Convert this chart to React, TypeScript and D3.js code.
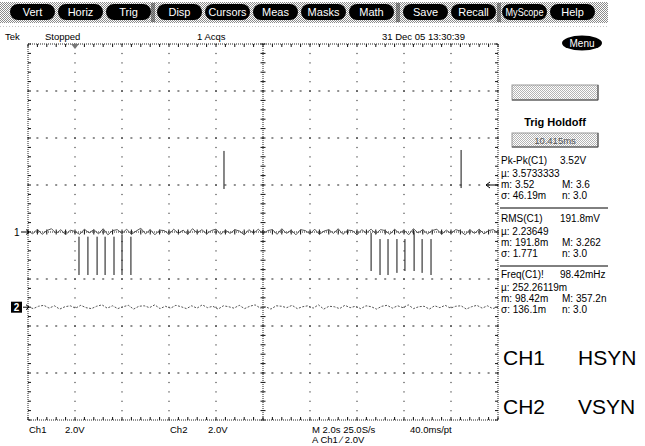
import React from "react";
import * as d3 from "d3";

// ---------- data ----------
const buttonGroups = [
  ["Vert", "Horiz", "Trig"],
  ["Disp", "Cursors", "Meas", "Masks", "Math"],
  ["Save", "Recall"],
  ["MyScope", "Help"],
];
const statusLeft = ["Tek", "Stopped"];
const acqLabel = "1 Acqs";
const dateLabel = "31 Dec 05 13:30:39";

// time axis: 2.0 s/div, 10 divisions, trigger one division from left
const timeDomain = [-2, 18];
const divDomain = [-4, 4];
const voltsPerDiv = 2.0;
const ch2OffsetDiv = -1.6;
const trigLevel = 2.0;

// Ch1 baseline noise (V), sampled evenly across the record
const ch1Noise = [
  0.05, -0.08, 0.12, -0.1, 0.06, 0.14, -0.06, 0.1, -0.12, 0.08, 0.02, -0.1, 0.12, -0.04, 0.1, -0.08,
  0.14, -0.12, 0.06, 0.1, -0.06, 0.12, -0.1, 0.04, 0.16, -0.08, 0.1, -0.12, 0.08, 0.06, -0.1, 0.12,
  -0.06, 0.08, -0.1, 0.14, -0.04, 0.1, -0.08, 0.06, 0.12, -0.1, 0.08, -0.06, 0.1, 0.04, -0.12, 0.1,
  -0.06, 0.12, -0.08, 0.06, 0.1, -0.1, 0.14, -0.06, 0.08, -0.12, 0.1, 0.06, -0.08, 0.12, -0.1, 0.04,
  0.1, -0.06, 0.14, -0.1, 0.08, 0.06, -0.12, 0.1, -0.04, 0.12, -0.08, 0.1, 0.06, -0.1, 0.12, -0.06,
  0.08, -0.12, 0.14, -0.04, 0.1, -0.08, 0.06, 0.12, -0.1, 0.08, -0.06, 0.1, 0.04, -0.12, 0.1, -0.06,
  0.12, -0.08, 0.06, 0.1, -0.04,
];
// Ch2 baseline noise (V)
const ch2Noise = [
  0.02, -0.06, 0.04, 0.08, -0.04, 0.06, -0.08, 0.02, 0.06, -0.04, 0.08, -0.02, -0.06, 0.04, 0.1, -0.04,
  0.06, -0.06, 0.02, 0.08, -0.08, 0.04, 0.06, -0.02, 0.1, -0.06, 0.04, -0.04, 0.08, 0.02, -0.06, 0.06,
  -0.04, 0.1, -0.02, 0.04, -0.08, 0.06, 0.02, -0.04, 0.08, -0.06, 0.04, 0.1, -0.04, 0.02, -0.08, 0.06,
  0.04, -0.02, 0.08, -0.06, 0.02, 0.06, -0.04, 0.1, -0.08, 0.04, 0.02, -0.06, 0.08, -0.02, 0.04, -0.06,
  0.06, 0.02, -0.08, 0.04, 0.08, -0.04, 0.06, -0.02, 0.1, -0.06, 0.02, 0.04, -0.08, 0.06, -0.02, 0.08,
  -0.04, 0.04, 0.06, -0.08, 0.02, 0.08, -0.04, 0.06, -0.06, 0.02,
];

// Ch1 downward pulses (s, V top, V bottom)
const pulseTimes = [0.17, 0.55, 0.94, 1.28, 1.66, 2.0, 2.38, 12.6, 12.98, 13.32, 13.7, 14.04, 14.43, 14.77, 15.15];
const pulseTop = [-0.2, -0.2, -0.2, -0.2, -0.2, -0.12, -0.2, -0.04, -0.3, -0.3, -0.3, -0.3, -0.04, -0.3, -0.3];
const pulseBottom = [-1.83, -1.83, -1.83, -1.83, -1.83, -1.83, -1.83, -1.66, -1.83, -1.83, -1.74, -1.66, -1.66, -1.74, -1.83];

// Ch1 isolated upward spikes
const spikeTimes = [6.34, 16.43];
const spikeTop = [3.45, 3.49];
const spikeBottom = [1.83, 1.87];

// measurements
const measTitles = ["Pk-Pk(C1)", "RMS(C1)", "Freq(C1)!"];
const measValues = ["3.52V", "191.8mV", "98.42mHz"];
const measMean = ["\u00b5: 3.5733333", "\u00b5: 2.23649", "\u00b5: 252.26119m"];
const measMin = ["m: 3.52", "m: 191.8m", "m: 98.42m"];
const measMax = ["M: 3.6", "M: 3.262", "M: 357.2n"];
const measSigma = ["\u03c3: 46.19m", "\u03c3: 1.771", "\u03c3: 136.1m"];
const measN = ["n: 3.0", "n: 3.0", "n: 3.0"];

const holdoffTitle = "Trig Holdoff";
const holdoffValue = "10.415ms";

const bottomCh = ["Ch1", "2.0V", "Ch2", "2.0V"];
const timebase = "M 2.0s 25.0S/s";
const recordRate = "40.0ms/pt";
const trigInfo = "A  Ch1  \u2215  2.0V";
const annotations = [
  ["CH1", "HSYN"],
  ["CH2", "VSYN"],
];

// ---------- drawing ----------
const W = 645;
const H = 446;
const FONT = "'Liberation Sans', Arial, sans-serif";

export default function App() {
  const x = d3.scaleLinear().domain(timeDomain).range([28, 498]);
  const y = d3.scaleLinear().domain(divDomain).range([420, 44]);
  const [x0, x1] = x.range();
  const [yb, yt] = y.range();
  const divW = (x1 - x0) / 10;
  const minor = divW / 5;

  const ch1Y = (v: number) => y(v / voltsPerDiv);
  const ch2Y = (v: number) => y(v / voltsPerDiv + ch2OffsetDiv);

  const tStep1 = (timeDomain[1] - timeDomain[0]) / (ch1Noise.length - 1);
  const tStep2 = (timeDomain[1] - timeDomain[0]) / (ch2Noise.length - 1);
  const line1 = d3
    .line<number>()
    .x((_, i) => x(timeDomain[0] + i * tStep1))
    .y((v) => ch1Y(v));
  const line2 = d3
    .line<number>()
    .x((_, i) => x(timeDomain[0] + i * tStep2))
    .y((v) => ch2Y(v));

  const vTicks = d3.range(timeDomain[0], timeDomain[1] + 0.001, 2);
  const hTicks = d3.range(divDomain[0], divDomain[1] + 0.001, 1);

  // grid dots
  const dots: JSX.Element[] = [];
  vTicks.forEach((t, i) => {
    if (i === 0 || i === vTicks.length - 1 || i === 5) return;
    const gx = x(t);
    for (let j = 0; j <= 40; j++) {
      const gy = yt + j * minor;
      dots.push(<rect key={`v${i}-${j}`} x={gx - 0.5} y={gy - 0.5} width={1} height={1.2} fill="#222" />);
    }
  });
  hTicks.forEach((d, i) => {
    if (i === 0 || i === hTicks.length - 1 || d === 0) return;
    const gy = y(d);
    for (let j = 0; j <= 50; j++) {
      const gx = x0 + j * minor;
      dots.push(<rect key={`h${i}-${j}`} x={gx - 1} y={gy - 0.5} width={2} height={1} fill="#222" />);
    }
  });
  // centre crosshair + border ticks
  const ticks: JSX.Element[] = [];
  const cx = x((timeDomain[0] + timeDomain[1]) / 2);
  const cy = y(0);
  for (let j = 0; j <= 40; j++) {
    const gy = yt + j * minor;
    ticks.push(<line key={`cv${j}`} x1={cx - 2.5} x2={cx + 2.5} y1={gy} y2={gy} stroke="#111" />);
    ticks.push(<line key={`lv${j}`} x1={x0} x2={x0 + 3} y1={gy} y2={gy} stroke="#111" />);
    ticks.push(<line key={`rv${j}`} x1={x1 - 3} x2={x1} y1={gy} y2={gy} stroke="#111" />);
  }
  for (let j = 0; j <= 50; j++) {
    const gx = x0 + j * minor;
    ticks.push(<line key={`ch${j}`} x1={gx} x2={gx} y1={cy - 2.5} y2={cy + 2.5} stroke="#111" />);
    ticks.push(<line key={`th${j}`} x1={gx} x2={gx} y1={yt} y2={yt + 3} stroke="#111" />);
    ticks.push(<line key={`bh${j}`} x1={gx} x2={gx} y1={yb - 3} y2={yb} stroke="#111" />);
  }

  // buttons layout
  const groupStarts = [10, 157, 403, 502];
  const pitch = 48;
  const bw = 45;
  const seps = [152, 397, 498];

  const measBlockTop = [164, 222, 278];
  const panelX = 501;
  const colM = 562;

  return (
    <svg
      width={W}
      height={H}
      style={{ position: "absolute", left: 0, top: 0, background: "#fff" }}
      fontFamily={FONT}
    >
      <defs>
        <pattern id="hatch" width={2} height={2} patternUnits="userSpaceOnUse">
          <rect width={2} height={2} fill="#fff" />
          <rect x={0} y={0} width={1} height={1} fill="#8a8a8a" />
          <rect x={1} y={1} width={1} height={1} fill="#8a8a8a" />
        </pattern>
        <pattern id="hatchLight" width={2} height={2} patternUnits="userSpaceOnUse">
          <rect width={2} height={2} fill="#fff" />
          <rect x={0} y={0} width={1} height={1} fill="#b5b5b5" />
          <rect x={1} y={1} width={1} height={1} fill="#b5b5b5" />
        </pattern>
      </defs>
      <rect width={W} height={H} fill="#fff" />

      {/* button bar */}
      <rect x={0} y={2} width={608} height={21} fill="url(#hatch)" />
      <line x1={0} x2={608} y1={26.5} y2={26.5} stroke="#c8c8c8" strokeDasharray="1 2" />
      {seps.map((s, i) => (
        <g key={i}>
          <line x1={s} x2={s} y1={3} y2={22} stroke="#333" />
          <line x1={s + 2} x2={s + 2} y1={3} y2={22} stroke="#333" />
        </g>
      ))}
      {buttonGroups.map((g, gi) =>
        g.map((b, bi) => {
          const bx = groupStarts[gi] + bi * pitch;
          const long = b.length >= 7;
          return (
            <g key={b}>
              <rect x={bx} y={4} width={bw} height={16} rx={8} fill="#000" />
              <text
                x={bx + bw / 2}
                y={16}
                textAnchor="middle"
                fontSize={long ? 10.5 : 11}
                fill="#fff"
                {...(long ? { textLength: bw - 7, lengthAdjust: "spacingAndGlyphs" } : {})}
              >
                {b}
              </text>
            </g>
          );
        })
      )}

      {/* status line */}
      <g fontSize={9.5}>
        <text x={5} y={40}>{statusLeft[0]}</text>
        <text x={45} y={40}>{statusLeft[1]}</text>
        <text x={197} y={40}>{acqLabel}</text>
        <text x={382} y={40}>{dateLabel}</text>
      </g>
      <ellipse cx={582} cy={43} rx={20} ry={7.5} fill="#000" />
      <text x={582} y={46.5} textAnchor="middle" fontSize={10} fill="#fff">Menu</text>

      {/* graticule */}
      {dots}
      <rect x={x0} y={yt} width={x1 - x0} height={yb - yt} fill="none" stroke="#222" strokeDasharray="1 1" />
      <line x1={cx} x2={cx} y1={yt} y2={yb} stroke="#222" strokeDasharray="1 1" />
      <line x1={x0} x2={x1} y1={cy} y2={cy} stroke="#222" strokeDasharray="1 1" />
      {ticks}

      {/* trigger position marker */}
      <path d={`M${x(0) - 4},${yt} L${x(0) + 4},${yt} L${x(0)},${yt + 5} Z`} fill="#777" />

      {/* traces */}
      <path d={line2(ch2Noise) || ""} fill="none" stroke="#555" strokeWidth={1} strokeDasharray="2 1.5" />
      <path d={line1(ch1Noise) || ""} fill="none" stroke="#555" strokeWidth={1} />
      {pulseTimes.map((t, i) => (
        <line key={`p${i}`} x1={x(t)} x2={x(t)} y1={ch1Y(pulseTop[i])} y2={ch1Y(pulseBottom[i])} stroke="#111" strokeWidth={1} />
      ))}
      {spikeTimes.map((t, i) => (
        <line key={`s${i}`} x1={x(t)} x2={x(t)} y1={ch1Y(spikeTop[i])} y2={ch1Y(spikeBottom[i])} stroke="#111" strokeWidth={1} />
      ))}

      {/* channel markers */}
      <text x={14} y={ch1Y(0) + 4} fontSize={10}>1</text>
      <path d={`M21,${ch1Y(0)} L29,${ch1Y(0)} M26,${ch1Y(0) - 2.5} L29,${ch1Y(0)} L26,${ch1Y(0) + 2.5}`} stroke="#000" fill="none" />
      <rect x={11} y={ch2Y(0) - 5.5} width={11} height={11} fill="#000" />
      <text x={16.5} y={ch2Y(0) + 4} fontSize={10} fontWeight="bold" fill="#fff" textAnchor="middle">2</text>
      <path d={`M23,${ch2Y(0)} L29,${ch2Y(0)} M26,${ch2Y(0) - 2.5} L29,${ch2Y(0)} L26,${ch2Y(0) + 2.5}`} stroke="#000" fill="none" />
      {/* trigger level arrow */}
      <path
        d={`M${x1 - 12},${ch1Y(trigLevel)} L${x1},${ch1Y(trigLevel)} M${x1 - 8},${ch1Y(trigLevel) - 3} L${x1 - 12},${ch1Y(trigLevel)} L${x1 - 8},${ch1Y(trigLevel) + 3}`}
        stroke="#000"
        fill="none"
      />

      {/* right panel */}
      <rect x={512} y={85} width={86} height={15} fill="url(#hatchLight)" stroke="#999" />
      <line x1={512} x2={598} y1={100} y2={100} stroke="#444" />
      <line x1={598} x2={598} y1={85} y2={100} stroke="#444" />
      <text x={555} y={126} textAnchor="middle" fontSize={11} fontWeight="bold">{holdoffTitle}</text>
      <rect x={512} y={133} width={86} height={14} fill="url(#hatchLight)" stroke="#999" />
      <line x1={512} x2={598} y1={147} y2={147} stroke="#444" />
      <line x1={598} x2={598} y1={133} y2={147} stroke="#444" />
      <text x={555} y={144} textAnchor="middle" fontSize={9.5} fill="#555">{holdoffValue}</text>

      {measTitles.map((t, k) => {
        const b = measBlockTop[k];
        return (
          <g key={t} fontSize={10}>
            <text x={panelX} y={b}>{t}</text>
            <text x={560} y={b}>{measValues[k]}</text>
            <text x={panelX} y={b + 13}>{measMean[k]}</text>
            <text x={panelX} y={b + 24}>{measMin[k]}</text>
            <text x={colM} y={b + 24}>{measMax[k]}</text>
            <text x={panelX} y={b + 35}>{measSigma[k]}</text>
            <text x={colM} y={b + 35}>{measN[k]}</text>
            {k < 2 && <line x1={500} x2={608} y1={b + 44} y2={b + 44} stroke="#000" />}
          </g>
        );
      })}

      {/* bottom readout */}
      <g fontSize={9.5}>
        <text x={29} y={433}>{bottomCh[0]}</text>
        <text x={65} y={433}>{bottomCh[1]}</text>
        <text x={170} y={433}>{bottomCh[2]}</text>
        <text x={208} y={433}>{bottomCh[3]}</text>
        <text x={312} y={433}>{timebase}</text>
        <text x={410} y={433}>{recordRate}</text>
        <text x={312} y={443}>{trigInfo}</text>
      </g>

      {/* annotations */}
      {annotations.map((a, i) => (
        <g key={a[0]} fontSize={21}>
          <text x={503} y={365 + i * 49}>{a[0]}</text>
          <text x={578} y={365 + i * 49}>{a[1]}</text>
        </g>
      ))}
    </svg>
  );
}
